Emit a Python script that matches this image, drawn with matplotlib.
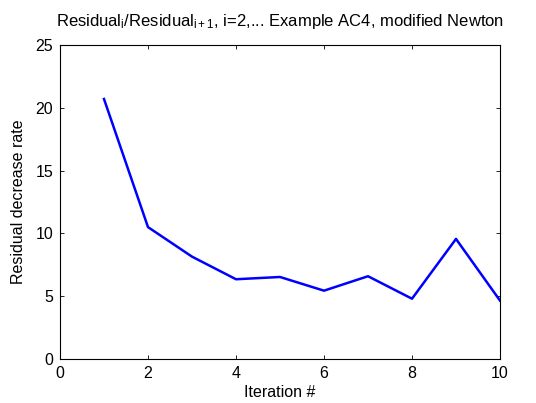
import matplotlib
matplotlib.use("Agg")
import matplotlib.pyplot as plt

iterations = [1, 2, 3, 4, 5, 6, 7, 8, 9, 10]
rates = [20.7, 10.5, 8.15, 6.35, 6.53, 5.44, 6.59, 4.8, 9.56, 4.65]
xticks = [0, 2, 4, 6, 8, 10]
yticks = [0, 5, 10, 15, 20, 25]

plt.rcParams['font.family'] = ['Liberation Sans', 'DejaVu Sans']
plt.rcParams['mathtext.fontset'] = 'custom'
plt.rcParams['mathtext.rm'] = 'Liberation Sans'
plt.rcParams['mathtext.it'] = 'Liberation Sans'
plt.rcParams['mathtext.default'] = 'regular'

fs = 11.5
fig = plt.figure(figsize=(5.36, 4.03), dpi=100)
ax = fig.add_axes([60/536, 44/403, 440/536, 314/403])
ax.plot(iterations, rates, color='#0000ff', lw=1.8)
ax.set_xlim(0, 10)
ax.set_ylim(0, 25)
ax.set_xticks(xticks)
ax.set_yticks(yticks)
ax.tick_params(direction='in', top=True, right=True, labelsize=fs, length=3, width=0.6)
ax.tick_params(axis='x', pad=5)
ax.tick_params(axis='y', pad=5)
for s in ax.spines.values():
    s.set_linewidth(0.8)
ax.set_xlabel('Iteration #', fontsize=fs, labelpad=3)
ax.set_ylabel('Residual decrease rate', fontsize=fs, labelpad=7)
ax.set_title(r'Residual$_i$/Residual$_{i+1}$, i=2,... Example AC4, modified Newton', fontsize=fs + 0.5, pad=14)
fig.savefig('out.png', dpi=100)
